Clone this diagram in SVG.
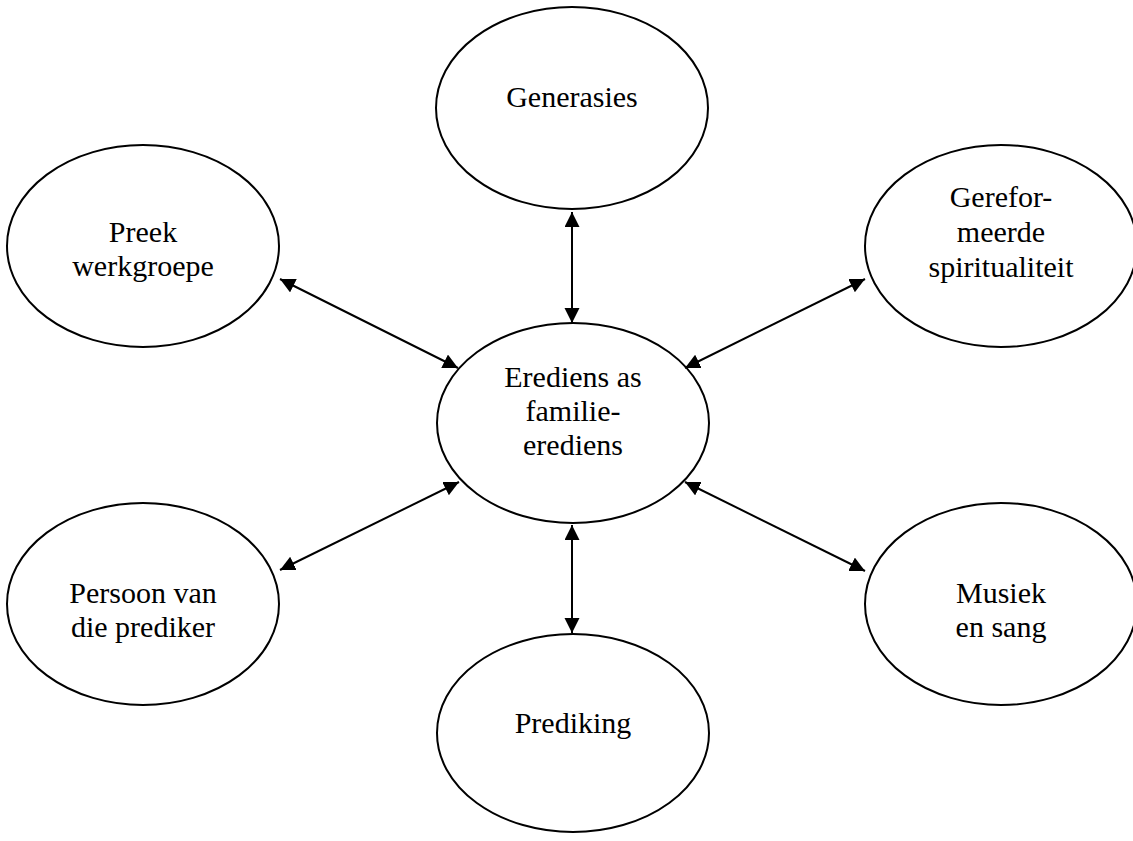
<svg xmlns="http://www.w3.org/2000/svg" width="1133" height="841" viewBox="0 0 1133 841">
<style>
.node ellipse{fill:#fff;stroke:#000;stroke-width:2}
.node text{font-family:"Liberation Serif","Times New Roman",serif;font-size:30px;fill:#000;text-anchor:middle}
.conn line{stroke:#000;stroke-width:2;fill:none}
</style>
<defs>
<marker id="ah" markerUnits="userSpaceOnUse" markerWidth="16" markerHeight="16" viewBox="0 0 16 16" refX="15" refY="7.5" orient="auto-start-reverse">
<path d="M0,0 L15,7.5 L0,15 z" fill="#000"/>
</marker>
</defs>
<rect width="1133" height="841" fill="#fff"/>
<g id="n-generasies" class="node"><ellipse cx="572" cy="108" rx="136" ry="101"/><text x="572" y="107">Generasies</text></g>
<g id="n-preek" class="node"><ellipse cx="143" cy="246" rx="136" ry="101"/><text x="143" y="242">Preek</text><text x="143" y="276">werkgroepe</text></g>
<g id="n-gereformeerde" class="node"><ellipse cx="1001" cy="246" rx="136" ry="101"/><text x="1001" y="207">Gerefor-</text><text x="1001" y="242">meerde</text><text x="1001" y="277">spiritualiteit</text></g>
<g id="n-erediens" class="node"><ellipse cx="573" cy="423" rx="136" ry="100"/><text x="573" y="387">Erediens as</text><text x="573" y="421">familie-</text><text x="573" y="455">erediens</text></g>
<g id="n-persoon" class="node"><ellipse cx="143" cy="604" rx="136" ry="101"/><text x="143" y="603">Persoon van</text><text x="143" y="637">die prediker</text></g>
<g id="n-musiek" class="node"><ellipse cx="1001" cy="604" rx="136" ry="101"/><text x="1001" y="603">Musiek</text><text x="1001" y="637">en sang</text></g>
<g id="n-prediking" class="node"><ellipse cx="573" cy="733" rx="136" ry="99"/><text x="573" y="733">Prediking</text></g>
<g id="connectors" class="conn">
<line x1="572" y1="212" x2="572" y2="323" marker-start="url(#ah)" marker-end="url(#ah)"/>
<line x1="572" y1="525" x2="572" y2="633" marker-start="url(#ah)" marker-end="url(#ah)"/>
<line x1="280" y1="279" x2="458" y2="368" marker-start="url(#ah)" marker-end="url(#ah)"/>
<line x1="865" y1="279" x2="685" y2="368" marker-start="url(#ah)" marker-end="url(#ah)"/>
<line x1="280" y1="570" x2="459" y2="482" marker-start="url(#ah)" marker-end="url(#ah)"/>
<line x1="865" y1="571" x2="685" y2="482" marker-start="url(#ah)" marker-end="url(#ah)"/>
</g>
</svg>
